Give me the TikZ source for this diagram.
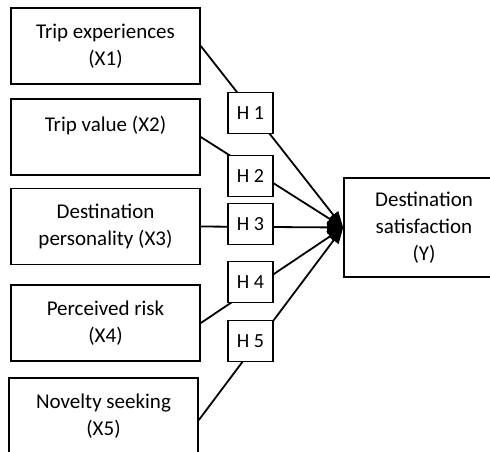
\documentclass[tikz,border=0pt]{standalone}
\usepackage{fontspec}
\setmainfont{Carlito}
\usetikzlibrary{arrows.meta}
\begin{document}
\begin{tikzpicture}[x=0.5pt,y=-0.5pt]
\tikzstyle{factor} = [draw, line width=0.8pt, minimum width=94.5pt, minimum height=38pt, inner sep=0pt, align=center, font=\fontsize{10.5}{13.5}\selectfont]
\tikzstyle{hyp} = [draw, fill=white, line width=0.7pt, minimum width=22.5pt, minimum height=20.5pt, inner sep=0pt, font=\fontsize{10}{12}\selectfont]
\tikzstyle{path} = [line width=0.9pt, -{Triangle[length=8pt,width=6pt]}]

\useasboundingbox (0,0) rectangle (490,451);
\clip (0,0) rectangle (490,451);

\node[factor] (x1) at (105.5,46) {Trip experiences\\(X1)};
\node[factor] (x2) at (105.5,137) {Trip value (X2)\\~};
\node[factor] (x3) at (105.5,226.5) {Destination\\personality (X3)};
\node[factor] (x4) at (105.5,323) {Perceived risk\\(X4)};
\node[factor, minimum height=42pt] (x5) at (103.5,420) {Novelty seeking\\(X5)\\[-8pt]~};

\node[factor, minimum width=80pt, minimum height=49.5pt] (y) at (424,227.5) {Destination\\satisfaction\\(Y)};

%\coordinate (tip) at (343,226);
\draw[path] (x1.east) -- (y.west);
\draw[path] (x2.east) -- (y.west);
\draw[path] (x3.east) -- (y.west);
\draw[path] (x4.east) -- (y.west);
\draw[path] (x5.east) -- (y.west);

\node[hyp] (h1) at (250.5,113) {H 1};
\node[hyp] (h2) at (250.5,176) {H 2};
\node[hyp] (h3) at (250.5,224) {H 3};
\node[hyp] (h4) at (250.5,282) {H 4};
\node[hyp] (h5) at (250.5,341) {H 5};

\end{tikzpicture}
\end{document}
